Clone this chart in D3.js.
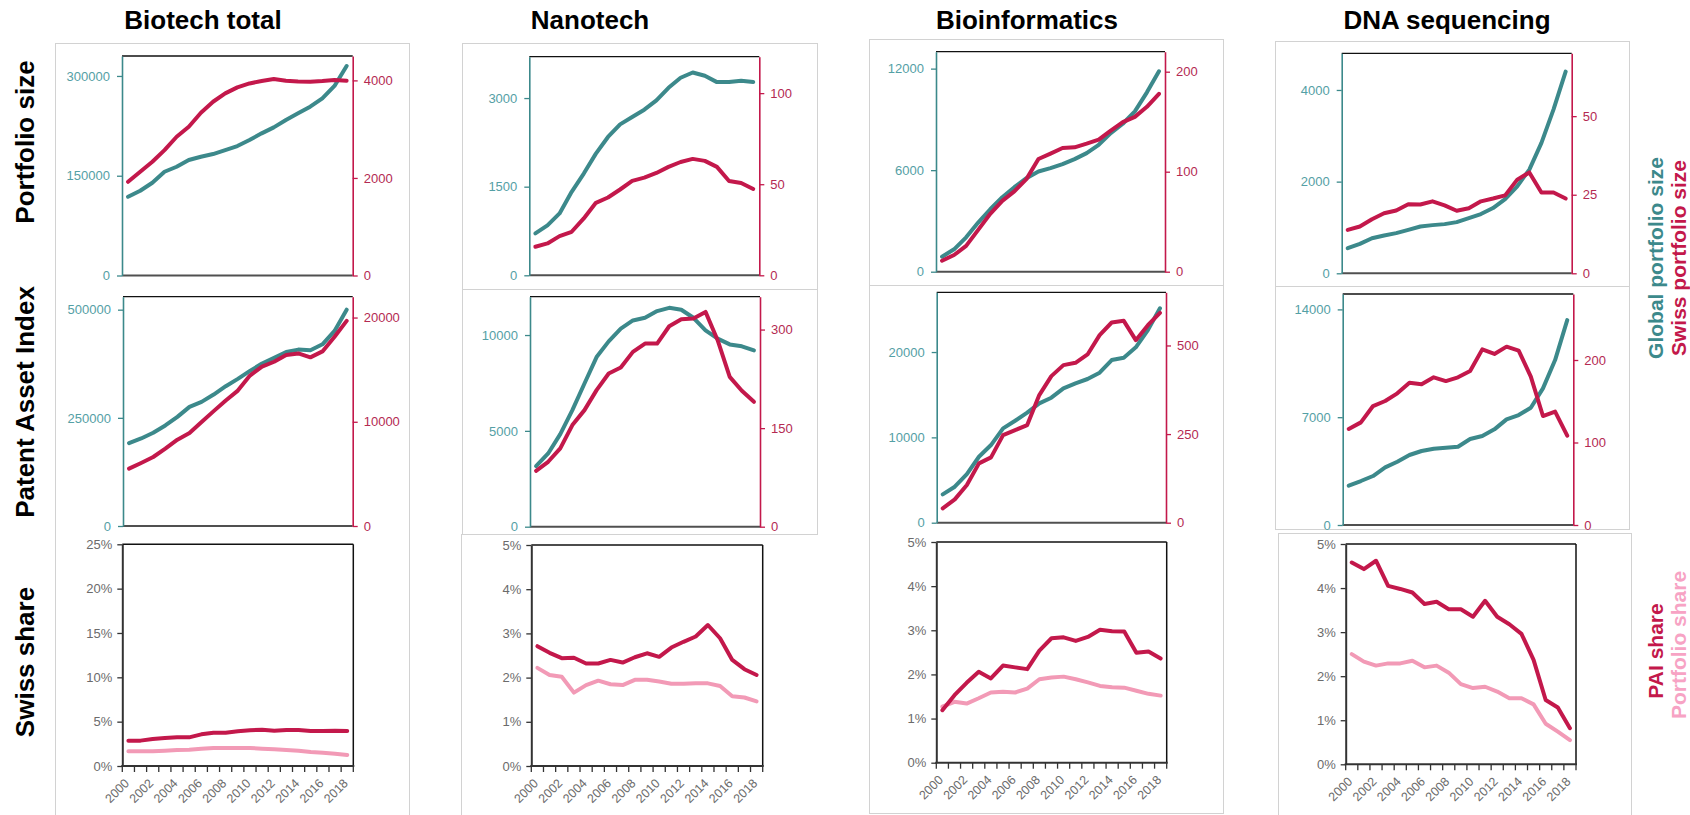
<!DOCTYPE html>
<html>
<head>
<meta charset="utf-8">
<script src="https://cdn.jsdelivr.net/npm/d3@7"></script>
<style>
  body { margin: 0; background: #fff; }
  svg { display: block; font-family: "Liberation Sans", Arial, sans-serif; }
</style>
</head>
<body>
<svg width="1690" height="815"></svg>
<script>
// Categories and labels
var years = ["2000", "2001", "2002", "2003", "2004", "2005", "2006", "2007", "2008", "2009",
  "2010", "2011", "2012", "2013", "2014", "2015", "2016", "2017", "2018"];
var colTitles = ["Biotech total", "Nanotech", "Bioinformatics", "DNA sequencing"];
var rowTitles = ["Portfolio size", "Patent Asset Index", "Swiss share"];

// Biotech total
var biotechPortfolioGlobal = [118400, 127400, 139500, 156000, 163500, 173600, 178600, 182600, 188600, 194600,
  203700, 213700, 222700, 233800, 243800, 253800, 266400, 285000, 315000];
var biotechPortfolioSwiss = [1921, 2127, 2332, 2571, 2844, 3050, 3337, 3562, 3733, 3856,
  3938, 3986, 4027, 3993, 3979, 3972, 3986, 4007, 3993];
var biotechPaiGlobal = [191500, 202300, 215400, 232300, 252300, 275400, 286900, 303800, 323100, 340000,
  358500, 375400, 388500, 402300, 407700, 406200, 420000, 450800, 500000];
var biotechPaiSwiss = [5510, 6050, 6620, 7420, 8280, 8920, 9970, 11020, 12040, 12990,
  14430, 15290, 15760, 16400, 16560, 16180, 16750, 18150, 19680];
var biotechPaiShare = [2.86, 2.86, 3.05, 3.16, 3.23, 3.23, 3.57, 3.76, 3.76, 3.91,
  4.02, 4.10, 3.98, 4.06, 4.06, 3.95, 3.95, 3.98, 3.95];
var biotechPortfolioShare = [1.65, 1.65, 1.65, 1.73, 1.80, 1.84, 1.95, 2.03, 2.03, 2.03,
  2.03, 1.95, 1.88, 1.80, 1.73, 1.58, 1.50, 1.39, 1.24];

// Nanotech
var nanoPortfolioGlobal = [709, 844, 1047, 1413, 1722, 2060, 2341, 2555, 2679, 2803,
  2961, 3174, 3343, 3433, 3377, 3270, 3270, 3293, 3270];
var nanoPortfolioSwiss = [15.7, 17.5, 21.5, 23.9, 31.2, 39.8, 42.7, 47.1, 51.8, 53.6,
  56.2, 59.5, 62.2, 63.9, 62.8, 59.5, 51.8, 50.7, 47.4];
var nanoPaiGlobal = [3160, 3820, 4830, 6080, 7470, 8850, 9670, 10330, 10760, 10900,
  11250, 11420, 11320, 10900, 10240, 9810, 9510, 9410, 9200];
var nanoPaiSwiss = [85.1, 98.8, 119.1, 154.6, 177.4, 207.8, 233.1, 242.2, 266, 278.7,
  278.7, 305, 315.7, 316.7, 326.9, 283.8, 228, 206.8, 190];
var nanoPaiShare = [2.71, 2.56, 2.44, 2.45, 2.32, 2.32, 2.40, 2.34, 2.46, 2.55,
  2.47, 2.68, 2.81, 2.93, 3.19, 2.89, 2.40, 2.19, 2.06];
var nanoPortfolioShare = [2.22, 2.06, 2.02, 1.66, 1.83, 1.93, 1.85, 1.83, 1.95, 1.95,
  1.91, 1.86, 1.86, 1.87, 1.87, 1.81, 1.58, 1.55, 1.46];

// Bioinformatics
var bioinfoPortfolioGlobal = [888, 1322, 2033, 2901, 3691, 4401, 4993, 5526, 5921, 6118,
  6355, 6651, 7007, 7500, 8191, 8743, 9474, 10599, 11842];
var bioinfoPortfolioSwiss = [11.0, 16.7, 25.8, 41.8, 57.9, 70.9, 80.3, 92.6, 112.7, 118.1,
  123.7, 124.4, 128.1, 132.1, 141.1, 149.5, 154.8, 164.9, 177.9];
var bioinfoPaiGlobal = [3320, 4220, 5700, 7730, 9100, 11060, 11950, 12890, 13980, 14650,
  15740, 16330, 16840, 17580, 19060, 19340, 20550, 22580, 25120];
var bioinfoPaiSwiss = [40.4, 65.8, 106.2, 167.3, 184.2, 247.2, 261.3, 275.4, 360, 413.5,
  444.5, 451.1, 474.6, 529.1, 564.8, 569.5, 515, 557.3, 592.1];
var bioinfoPaiShare = [1.19, 1.53, 1.81, 2.06, 1.91, 2.20, 2.16, 2.12, 2.54, 2.82,
  2.84, 2.76, 2.85, 3.01, 2.98, 2.97, 2.49, 2.52, 2.36];
var bioinfoPortfolioShare = [1.27, 1.38, 1.34, 1.46, 1.59, 1.61, 1.59, 1.68, 1.89, 1.93,
  1.95, 1.89, 1.82, 1.74, 1.71, 1.70, 1.63, 1.56, 1.52];

// DNA sequencing
var dnaPortfolioGlobal = [547, 642, 766, 825, 876, 949, 1022, 1051, 1073, 1117,
  1204, 1292, 1423, 1620, 1898, 2263, 2847, 3577, 4401];
var dnaPortfolioSwiss = [13.8, 14.9, 17.2, 19.1, 20.0, 22.0, 21.9, 22.9, 21.6, 19.9,
  20.7, 22.9, 23.8, 24.8, 29.8, 32.1, 25.7, 25.7, 23.8];
var dnaPaiGlobal = [2553, 2856, 3181, 3743, 4111, 4544, 4804, 4955, 5020, 5085,
  5583, 5777, 6210, 6859, 7141, 7617, 8872, 10711, 13308];
var dnaPaiSwiss = [116.4, 124.4, 144.2, 150.3, 159.6, 172.5, 170.5, 179, 174.5, 179,
  186.7, 212.9, 207.3, 216.2, 211.3, 179.8, 132.1, 137.4, 108.3];
var dnaPaiShare = [4.58, 4.43, 4.62, 4.05, 3.98, 3.90, 3.64, 3.69, 3.52, 3.52,
  3.35, 3.71, 3.35, 3.18, 2.96, 2.37, 1.46, 1.29, 0.82];
var dnaPortfolioShare = [2.50, 2.33, 2.24, 2.29, 2.29, 2.35, 2.20, 2.24, 2.08, 1.82,
  1.73, 1.76, 1.65, 1.50, 1.50, 1.36, 0.92, 0.74, 0.55];

// Axis ticks (global = left axis, swiss = right axis)
var portfolioLeftTicks = [[0, 150000, 300000], [0, 1500, 3000], [0, 6000, 12000], [0, 2000, 4000]];
var portfolioLeftMax = [330000, 3700, 13000, 4800];
var portfolioRightTicks = [[0, 2000, 4000], [0, 50, 100], [0, 100, 200], [0, 25, 50]];
var portfolioRightMax = [4500, 120, 220, 70];
var paiLeftTicks = [[0, 250000, 500000], [0, 5000, 10000], [0, 10000, 20000], [0, 7000, 14000]];
var paiLeftMax = [530000, 12000, 27000, 15000];
var paiRightTicks = [[0, 10000, 20000], [0, 150, 300], [0, 250, 500], [0, 100, 200]];
var paiRightMax = [22000, 350, 650, 280];
var shareTicks = [[0, 5, 10, 15, 20, 25], [0, 1, 2, 3, 4, 5], [0, 1, 2, 3, 4, 5], [0, 1, 2, 3, 4, 5]];

var portfolioGlobal = [biotechPortfolioGlobal, nanoPortfolioGlobal, bioinfoPortfolioGlobal, dnaPortfolioGlobal];
var portfolioSwiss = [biotechPortfolioSwiss, nanoPortfolioSwiss, bioinfoPortfolioSwiss, dnaPortfolioSwiss];
var paiGlobal = [biotechPaiGlobal, nanoPaiGlobal, bioinfoPaiGlobal, dnaPaiGlobal];
var paiSwiss = [biotechPaiSwiss, nanoPaiSwiss, bioinfoPaiSwiss, dnaPaiSwiss];
var paiShare = [biotechPaiShare, nanoPaiShare, bioinfoPaiShare, dnaPaiShare];
var portfolioShare = [biotechPortfolioShare, nanoPortfolioShare, bioinfoPortfolioShare, dnaPortfolioShare];

// Layout: plot frames [left, right, top, bottom] per column and row
var frames = [
  [[122, 352.7, 56, 275.5], [123, 352.7, 296.7, 526], [122.3, 353.3, 544.3, 766]],
  [[529.3, 759.3, 56.7, 275.3], [530, 760, 296.7, 526.7], [531.3, 762.7, 545, 766]],
  [[936, 1165, 51.7, 271.7], [936.7, 1166, 292.3, 522.7], [936.3, 1166.7, 542, 762.7]],
  [[1341.7, 1571.7, 53.3, 273.3], [1342.7, 1573.3, 294, 525], [1345.7, 1576, 544, 764.3]]
];
var titleX = [203, 590, 1027, 1447];
var rowY = [142, 402, 662];

var teal = "#3c898b", tealText = "#54a0a5";
var crimson = "#c3184b", crimsonText = "#b42a52";
var pink = "#f29ab6", grayText = "#6b6b6b";

var svg = d3.select("svg");

// Light grey panel borders
var borders = svg.append("g").attr("fill", "none").attr("stroke", "#d2d2d2").attr("stroke-width", 1);
borders.append("rect").attr("x", 55.5).attr("y", 43.5).attr("width", 354).attr("height", 790);
borders.append("rect").attr("x", 462.5).attr("y", 43.5).attr("width", 355).attr("height", 246);
borders.append("rect").attr("x", 462.5).attr("y", 289.5).attr("width", 355).attr("height", 245);
borders.append("line").attr("x1", 461.5).attr("x2", 461.5).attr("y1", 534).attr("y2", 815);
borders.append("rect").attr("x", 869.5).attr("y", 39.5).attr("width", 354).attr("height", 774);
borders.append("line").attr("x1", 869.5).attr("x2", 1223.5).attr("y1", 285.5).attr("y2", 285.5);
borders.append("rect").attr("x", 1275.5).attr("y", 41.5).attr("width", 354).attr("height", 488);
borders.append("line").attr("x1", 1275.5).attr("x2", 1629.5).attr("y1", 286.5).attr("y2", 286.5);
borders.append("rect").attr("x", 1278.5).attr("y", 533.5).attr("width", 353).attr("height", 300);

// Column titles
svg.selectAll(".col-title")
  .data(colTitles)
  .enter()
  .append("text")
  .attr("class", "col-title")
  .attr("x", function (d, i) { return titleX[i]; })
  .attr("y", 29)
  .attr("text-anchor", "middle")
  .style("font-size", "26px")
  .style("font-weight", "bold")
  .text(function (d) { return d; });

// Row titles
svg.selectAll(".row-title")
  .data(rowTitles)
  .enter()
  .append("text")
  .attr("class", "row-title")
  .attr("transform", function (d, i) { return "translate(34," + rowY[i] + ") rotate(-90)"; })
  .attr("text-anchor", "middle")
  .style("font-size", "26px")
  .style("font-weight", "bold")
  .text(function (d) { return d; });

function styleAxis(ax, lineColor, textColor, width) {
  ax.attr("font-family", null).attr("font-size", 13);
  ax.select(".domain").attr("stroke", lineColor).attr("stroke-width", width);
  ax.selectAll(".tick line").attr("stroke", lineColor).attr("stroke-width", 1.3);
  ax.selectAll(".tick text").attr("fill", textColor);
}

function drawLine(g, x, y, values, color) {
  var line = d3.line()
    .x(function (d, i) { return x(years[i]) + x.bandwidth() / 2; })
    .y(function (d) { return y(d); });
  g.append("path")
    .datum(values)
    .attr("d", line)
    .attr("fill", "none")
    .attr("stroke", color)
    .attr("stroke-width", 4)
    .attr("stroke-linejoin", "round")
    .attr("stroke-linecap", "round");
}

// Dual-axis panel: global on the left axis, Swiss on the right axis
function dualPanel(f, globalVals, swissVals, lTicks, lMax, rTicks, rMax) {
  var x = d3.scaleBand().domain(years).range([f[0], f[1]]);
  var yL = d3.scaleLinear().domain([0, lMax]).range([f[3], f[2]]);
  var yR = d3.scaleLinear().domain([0, rMax]).range([f[3], f[2]]);
  var g = svg.append("g");

  g.append("line").attr("x1", f[0]).attr("x2", f[1]).attr("y1", f[2]).attr("y2", f[2])
    .attr("stroke", "#111").attr("stroke-width", 1.3);
  g.append("line").attr("x1", f[0]).attr("x2", f[1]).attr("y1", f[3]).attr("y2", f[3])
    .attr("stroke", "#505050").attr("stroke-width", 2);

  var axL = g.append("g").attr("transform", "translate(" + f[0] + ",0)")
    .call(d3.axisLeft(yL).tickValues(lTicks).tickSize(5).tickSizeOuter(0).tickPadding(7).tickFormat(d3.format("d")));
  styleAxis(axL, teal, tealText, 1.6);
  var axR = g.append("g").attr("transform", "translate(" + f[1] + ",0)")
    .call(d3.axisRight(yR).tickValues(rTicks).tickSize(5).tickSizeOuter(0).tickPadding(6).tickFormat(d3.format("d")));
  styleAxis(axR, crimson, crimsonText, 1.6);

  drawLine(g, x, yL, globalVals, teal);
  drawLine(g, x, yR, swissVals, crimson);
}

// Share panel: PAI share and portfolio share in percent
function sharePanel(f, paiVals, portVals, ticks) {
  var x = d3.scaleBand().domain(years).range([f[0], f[1]]);
  var y = d3.scaleLinear().domain([0, ticks[ticks.length - 1]]).range([f[3], f[2]]);
  var g = svg.append("g");

  g.append("line").attr("x1", f[0]).attr("x2", f[1]).attr("y1", f[2]).attr("y2", f[2])
    .attr("stroke", "#111").attr("stroke-width", 1.5);
  g.append("line").attr("x1", f[1]).attr("x2", f[1]).attr("y1", f[2]).attr("y2", f[3])
    .attr("stroke", "#111").attr("stroke-width", 1.5);

  var axY = g.append("g").attr("transform", "translate(" + f[0] + ",0)")
    .call(d3.axisLeft(y).tickValues(ticks).tickSize(5).tickSizeOuter(0).tickPadding(5)
      .tickFormat(function (d) { return d + "%"; }));
  styleAxis(axY, "#333", grayText, 2);

  // x axis: ticks between categories, labels on every other year
  g.append("line").attr("x1", f[0] - 1).attr("x2", f[1] + 1).attr("y1", f[3]).attr("y2", f[3])
    .attr("stroke", "#333").attr("stroke-width", 2);
  g.selectAll(".xtick")
    .data(years.concat(["end"]))
    .enter()
    .append("line")
    .attr("x1", function (d) { return d === "end" ? f[1] : x(d); })
    .attr("x2", function (d) { return d === "end" ? f[1] : x(d); })
    .attr("y1", f[3])
    .attr("y2", f[3] + 6)
    .attr("stroke", "#333")
    .attr("stroke-width", 1.3);
  g.selectAll(".xlabel")
    .data(years.filter(function (d, i) { return i % 2 === 0; }))
    .enter()
    .append("text")
    .attr("transform", function (d) {
      return "translate(" + (x(d) + x.bandwidth() / 2 + 1.5) + "," + (f[3] + 18) + ") rotate(-45)";
    })
    .attr("text-anchor", "end")
    .attr("fill", grayText)
    .style("font-size", "12.5px")
    .text(function (d) { return d; });

  drawLine(g, x, y, portVals, pink);
  drawLine(g, x, y, paiVals, crimson);
}

for (var c = 0; c < 4; c++) {
  dualPanel(frames[c][0], portfolioGlobal[c], portfolioSwiss[c],
    portfolioLeftTicks[c], portfolioLeftMax[c], portfolioRightTicks[c], portfolioRightMax[c]);
  dualPanel(frames[c][1], paiGlobal[c], paiSwiss[c],
    paiLeftTicks[c], paiLeftMax[c], paiRightTicks[c], paiRightMax[c]);
  sharePanel(frames[c][2], paiShare[c], portfolioShare[c], shareTicks[c]);
}

// Legends on the right
var legends = [
  { text: "Global portfolio size", color: teal, x: 1663, y: 258 },
  { text: "Swiss portfolio size", color: crimson, x: 1686, y: 258 },
  { text: "PAI share", color: crimson, x: 1663, y: 651 },
  { text: "Portfolio share", color: "#f7a3c4", x: 1686, y: 645 }
];
svg.selectAll(".legend")
  .data(legends)
  .enter()
  .append("text")
  .attr("transform", function (d) { return "translate(" + d.x + "," + d.y + ") rotate(-90)"; })
  .attr("text-anchor", "middle")
  .attr("fill", function (d) { return d.color; })
  .style("font-size", "21px")
  .style("font-weight", "bold")
  .text(function (d) { return d.text; });
</script>
</body>
</html>
